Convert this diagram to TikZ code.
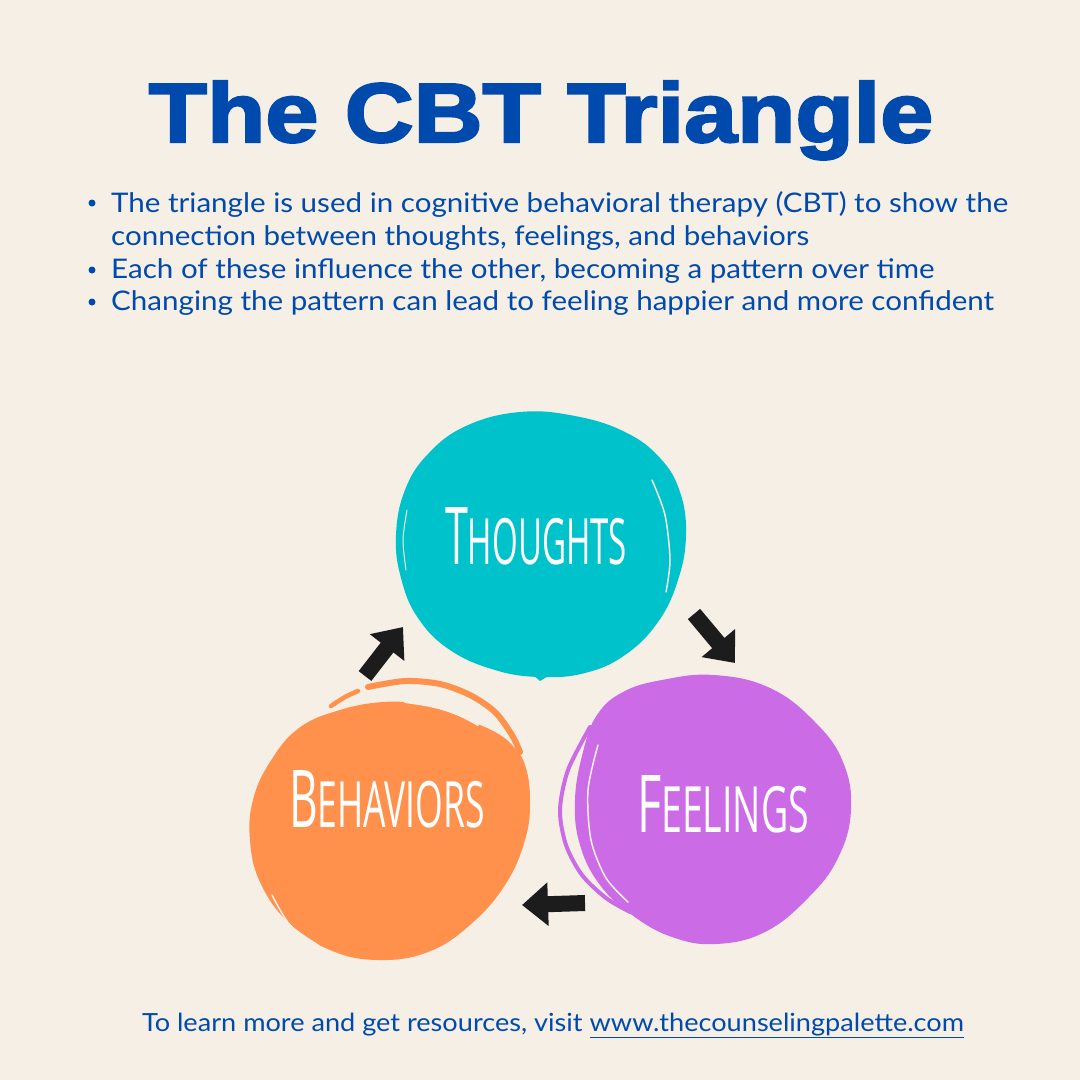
\documentclass[tikz,border=0pt]{standalone}
\usepackage{fontspec}
\setmainfont{Lato}
\newfontfamily\titlefont{Liberation Sans}[BoldFeatures={FakeBold=2.5}]
\newfontfamily\handfont{Open Sans}
\usetikzlibrary{arrows.meta,calc}
\definecolor{bg}{HTML}{F5EFE5}
\definecolor{cbtblue}{HTML}{004AAD}
\definecolor{cteal}{HTML}{00C2CB}
\definecolor{corange}{HTML}{FF914D}
\definecolor{cpurple}{HTML}{CB6CE6}
\definecolor{arrowblack}{HTML}{1C1C1C}
\newcommand{\widetext}[1]{\scalebox{1.095}[1]{#1}}
\tikzset{
  bullettext/.style={text=cbtblue, font=\fontsize{27}{27}\selectfont, anchor=base west, inner sep=0pt},
  bulletdot/.style={fill=cbtblue},
  circlelabel/.style={text=white, anchor=base, inner sep=0pt},
  streak/.style={line cap=round, line join=round},
  blob/.style={smooth cycle, tension=0.7},
  cbtarrow/.style={draw=arrowblack, line width=16pt, -{Triangle[width=42pt,length=26pt]}}
}
\begin{document}
\begin{tikzpicture}[x=1pt,y=-1pt]
\fill[bg] (0,0) rectangle (1080,1080);
\useasboundingbox (0,0) rectangle (1080,1080);

% title
\node[anchor=base, text=cbtblue, inner sep=0pt] (title) at (541,142)
  {\resizebox{784pt}{61pt}{\titlefont\bfseries The CBT Triangle}};

% bullets
\fill[bulletdot] (92,203) circle (3.5pt);
\node[bullettext] (b1a) at (111,212) {\widetext{The triangle is used in cognitive behavioral therapy (CBT) to show the}};
\node[bullettext] (b1b) at (111,245) {\widetext{connection between thoughts, feelings, and behaviors}};
\fill[bulletdot] (92,270) circle (3.5pt);
\node[bullettext] (b2) at (111,278) {\widetext{Each of these influence the other, becoming a pattern over time}};
\fill[bulletdot] (92,302) circle (3.5pt);
\node[bullettext] (b3) at (111,310) {\widetext{Changing the pattern can lead to feeling happier and more confident}};

% Thoughts blob
\fill[cteal] plot[blob] coordinates {(520,412) (466,426) (428,454) (405,490) (396,535) (401,578) (418,618) (450,650) (495,670) (540,677) (585,673) (625,655) (658,622) (678,580) (686,535) (680,492) (660,458) (625,432) (575,416)};
\fill[cteal] (532,674) -- (540,681) -- (550,675) -- cycle;
\draw[cteal, streak, line width=3pt] plot[smooth] coordinates {(587,428) (605,433) (622,441)};
\draw[cteal, streak, line width=2.5pt] plot[smooth] coordinates {(633,448) (655,466) (672,492)};
\draw[bg, streak, line width=1.5pt] plot[smooth] coordinates {(652,480) (665,515) (670,560) (666,592)};
\draw[bg, streak, line width=1pt] plot[smooth] coordinates {(407,510) (403,540) (406,570)};

% Behaviors blob
\fill[corange] plot[blob] coordinates {(383,702) (340,710) (299,728) (270,762) (253,800) (250,840) (260,882) (288,922) (330,950) (378,960) (428,952) (470,925) (505,885) (525,840) (530,800) (525,765) (512,745) (495,732) (470,721) (445,711) (420,704)};
\draw[corange, streak, line width=4.5pt] plot[smooth] coordinates {(331,706) (345,697) (358,691)};
\draw[corange, streak, line width=6pt] plot[smooth] coordinates {(368,687) (405,681) (440,684) (470,695) (495,712) (512,735) (520,752)};
\draw[bg, streak, line width=2pt] plot[smooth] coordinates {(405,702) (430,706) (455,713) (478,725)};
\draw[bg, streak, line width=1.5pt] plot[smooth] coordinates {(272,895) (290,925) (318,945)};

% Feelings blob
\fill[cpurple] plot[blob] coordinates {(714,675) (662,680) (623,692) (597,715) (583,752) (575,800) (580,845) (600,885) (632,915) (672,937) (716,944) (765,932) (808,898) (838,858) (851,810) (843,762) (815,722) (770,688)};
\draw[cpurple, streak, line width=4pt] plot[smooth] coordinates {(590,727) (568,770) (560,810) (566,845) (582,875) (606,898) (630,912)};
\draw[bg, streak, line width=1.5pt] plot[smooth] coordinates {(598,745) (588,790) (591,840) (606,878) (628,902)};
\draw[bg, streak, line width=1.2pt] plot[smooth] coordinates {(845,850) (838,875) (828,895)};

% labels
\node[circlelabel] (thoughts) at (536,564)
  {\resizebox{182pt}{57pt}{\handfont\fontsize{60}{60}\selectfont T\fontsize{48}{48}\selectfont HOUGHTS}};
\node[circlelabel] (behaviors) at (387,827)
  {\resizebox{196pt}{57pt}{\handfont\fontsize{60}{60}\selectfont B\fontsize{48}{48}\selectfont EHAVIORS}};
\node[circlelabel] (feelings) at (723,832)
  {\resizebox{172pt}{57pt}{\handfont\fontsize{60}{60}\selectfont F\fontsize{48}{48}\selectfont EELINGS}};

% arrows
\coordinate (a1t) at (365,676);
\coordinate (a1h) at (403,627);
\coordinate (a2t) at (694,614);
\coordinate (a2h) at (735,663);
\coordinate (a3t) at (585,903);
\coordinate (a3h) at (522,905);
\draw[cbtarrow] (a1t) -- (a1h);
\draw[cbtarrow] (a2t) -- (a2h);
\draw[cbtarrow] (a3t) -- (a3h);

% footer
\node[anchor=base, text=cbtblue, inner sep=0pt, font=\fontsize{25}{25}\selectfont] (footer) at (553,1031)
  {\scalebox{1.085}[1]{To learn more and get resources, visit \underline{www.thecounselingpalette.com}}};
\end{tikzpicture}
\end{document}
